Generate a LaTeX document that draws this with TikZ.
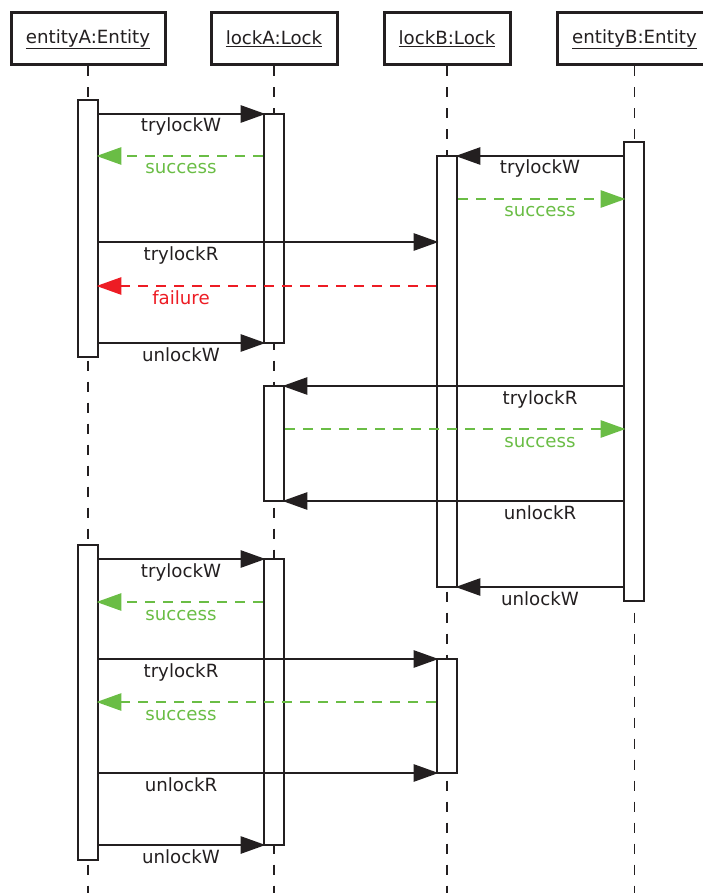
\documentclass[tikz,border=0pt]{standalone}
\usepackage{fontspec}
\setmainfont{DejaVu Sans}
\usetikzlibrary{arrows.meta}
\definecolor{ink}{HTML}{231F20}
\definecolor{okgreen}{HTML}{6ABD45}
\definecolor{failred}{HTML}{ED1C24}
\begin{document}
\begin{tikzpicture}[x=1pt,y=-1pt,
  every node/.style={font=\fontsize{18.2}{21}\selectfont, text=ink},
  obj/.style={draw=ink, line width=3pt, fill=white, minimum height=52pt, inner sep=0pt},
  act/.style={draw=ink, line width=2.8pt, fill=white, minimum width=20pt, inner sep=0pt},
  lifeline/.style={draw=ink, line width=1.3pt, dash pattern=on 10pt off 11pt},
  tip/.style={-{Triangle[length=25pt,width=17pt]}, shorten >=-3pt},
  call/.style={draw=ink, line width=2.8pt, tip},
  reply/.style={draw=okgreen, line width=2.8pt, dash pattern=on 10pt off 8pt, tip},
  fail/.style={draw=failred, line width=2.8pt, dash pattern=on 10pt off 8pt, tip},
  lbl/.style={anchor=base, inner sep=0pt},
  glbl/.style={lbl, text=okgreen},
  rlbl/.style={lbl, text=failred}
]
\useasboundingbox (0,0) rectangle (703,893);
% objects
\node[obj, minimum width=154pt] (eA) at (88,39) {\underline{entityA:Entity}};
\node[obj, minimum width=126pt] (lA) at (274,39) {\underline{lockA:Lock}};
\node[obj, minimum width=126pt] (lB) at (447,39) {\underline{lockB:Lock}};
\node[obj, minimum width=155pt] (eB) at (634.5,39) {\underline{entityB:Entity}};
% lifelines
\coordinate (eAend) at (88,893);
\coordinate (lAend) at (274,893);
\coordinate (lBend) at (447,893);
\coordinate (eBend) at (634.5,893);
\draw[lifeline] (eA.south) -- (eAend);
\draw[lifeline] (lA.south) -- (lAend);
\draw[lifeline] (lB.south) -- (lBend);
\draw[lifeline] (eB.south) -- (eBend);
% activations
\node[act, minimum height=257pt] (aA1) at (88,228.5) {};
\node[act, minimum height=229pt] (lA1) at (274,228.5) {};
\node[act, minimum height=459pt] (eB1) at (634,371.5) {};
\node[act, minimum height=431pt] (lB1) at (447,371.5) {};
\node[act, minimum height=115pt] (lA2) at (274,443.5) {};
\node[act, minimum height=315pt] (aA2) at (88,702.5) {};
\node[act, minimum height=286pt] (lA3) at (274,702) {};
\node[act, minimum height=114pt] (lB2) at (447,716) {};
% messages
\draw[call] (aA1.east |- 0,114) -- (lA1.west |- 0,114);
\node[lbl] (t1) at (181,132) {trylockW};
\draw[reply] (lA1.west |- 0,156) -- (aA1.east |- 0,156);
\node[glbl] (t2) at (181,174) {success};
\draw[call] (eB1.west |- 0,156) -- (lB1.east |- 0,156);
\node[lbl] (t3) at (540,174) {trylockW};
\draw[reply] (lB1.east |- 0,199) -- (eB1.west |- 0,199);
\node[glbl] (t4) at (540,217) {success};
\draw[call] (aA1.east |- 0,242) -- (lB1.west |- 0,242);
\node[lbl] (t5) at (181,260) {trylockR};
\draw[fail] (lB1.west |- 0,286) -- (aA1.east |- 0,286);
\node[rlbl] (t6) at (181,304) {failure};
\draw[call] (aA1.east |- 0,343) -- (lA1.west |- 0,343);
\node[lbl] (t7) at (181,361) {unlockW};
\draw[call] (eB1.west |- 0,386) -- (lA2.east |- 0,386);
\node[lbl] (t8) at (540,404) {trylockR};
\draw[reply] (lA2.east |- 0,429) -- (eB1.west |- 0,429);
\node[glbl] (t9) at (540,447) {success};
\draw[call] (eB1.west |- 0,501) -- (lA2.east |- 0,501);
\node[lbl] (t10) at (540,519) {unlockR};
\draw[call] (eB1.west |- 0,587) -- (lB1.east |- 0,587);
\node[lbl] (t11) at (540,605) {unlockW};
\draw[call] (aA2.east |- 0,559) -- (lA3.west |- 0,559);
\node[lbl] (t12) at (181,577) {trylockW};
\draw[reply] (lA3.west |- 0,602) -- (aA2.east |- 0,602);
\node[glbl] (t13) at (181,620) {success};
\draw[call] (aA2.east |- 0,659) -- (lB2.west |- 0,659);
\node[lbl] (t14) at (181,677) {trylockR};
\draw[reply] (lB2.west |- 0,702) -- (aA2.east |- 0,702);
\node[glbl] (t15) at (181,720) {success};
\draw[call] (aA2.east |- 0,773) -- (lB2.west |- 0,773);
\node[lbl] (t16) at (181,791) {unlockR};
\draw[call] (aA2.east |- 0,845) -- (lA3.west |- 0,845);
\node[lbl] (t17) at (181,863) {unlockW};
\end{tikzpicture}
\end{document}
